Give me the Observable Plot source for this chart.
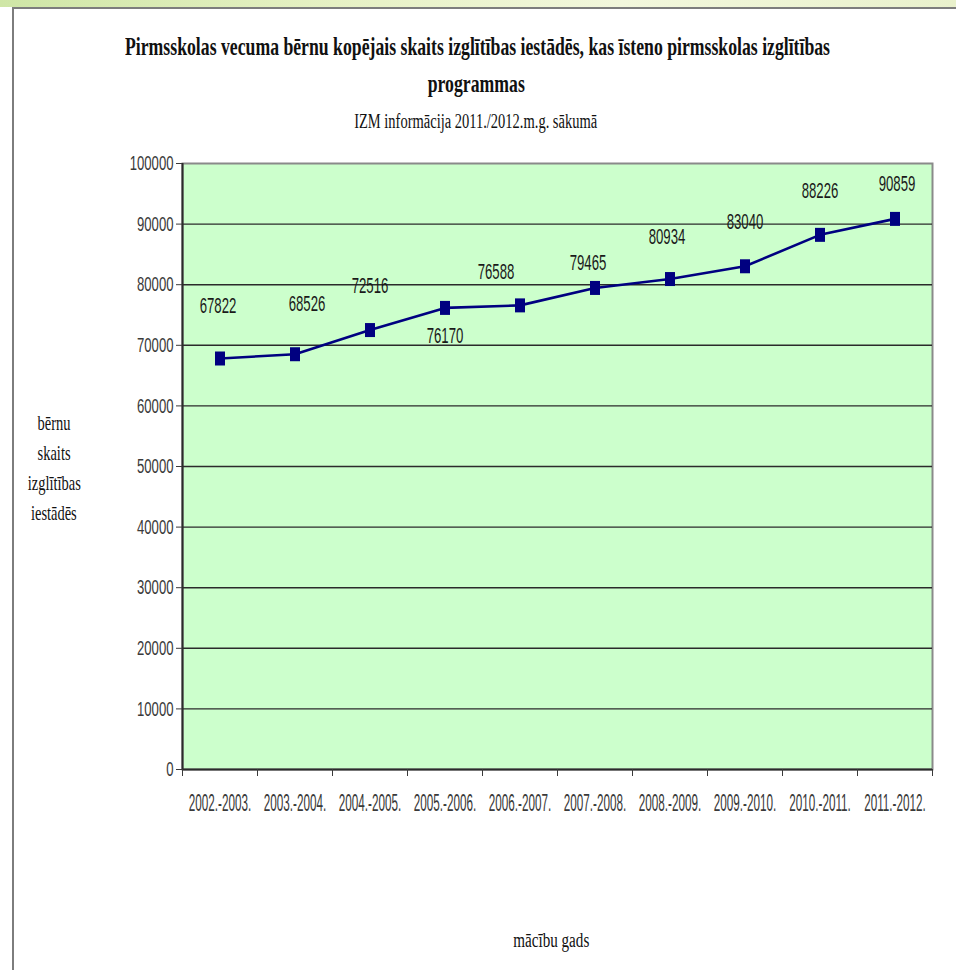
<!DOCTYPE html>
<html>
<head>
<meta charset="utf-8">
<script src="https://cdn.jsdelivr.net/npm/d3@7"></script>
<script src="https://cdn.jsdelivr.net/npm/@observablehq/plot@0.6"></script>
<style>
  html, body { margin: 0; padding: 0; }
  body { width: 956px; height: 970px; position: relative; background: #ffffff; overflow: hidden; font-family: "Liberation Serif", serif; }
  #topbar { position: absolute; left: 0; top: 0; width: 956px; height: 7px; background: linear-gradient(to right, #cfe6a6 0%, #e6f1c4 35%, #f2f7dc 65%, #e9f1cc 100%); }
  #frame { position: absolute; left: 12px; top: 7px; width: 960px; height: 980px; border-left: 2px solid #7d7d7d; border-top: 2px solid #7d7d7d; box-sizing: border-box; }
  .line { position: absolute; white-space: nowrap; color: #111; line-height: 1; }
  .line span { display: inline-block; transform-origin: center center; }
  #chart { position: absolute; left: 0; top: 140px; }
</style>
</head>
<body>
<div id="topbar"></div>
<div id="frame"></div>
<div id="texts"></div>
<div id="chart"></div>
<script>
// ---- data ----
const titleLines = [
  "Pirmsskolas vecuma bērnu kopējais skaits izglītības iestādēs, kas īsteno pirmsskolas izglītības",
  "programmas"
];
const subtitle = "IZM informācija 2011./2012.m.g. sākumā";
const yLabelLines = ["bērnu", "skaits", "izglītības", "iestādēs"];
const xLabel = "mācību gads";
const categories = ["2002.-2003.", "2003.-2004.", "2004.-2005.", "2005.-2006.", "2006.-2007.",
                    "2007.-2008.", "2008.-2009.", "2009.-2010.", "2010.-2011.", "2011.-2012."];
const values = [67822, 68526, 72516, 76170, 76588, 79465, 80934, 83040, 88226, 90859];
const yTicks = [0, 10000, 20000, 30000, 40000, 50000, 60000, 70000, 80000, 90000, 100000];
// label placement offsets (px), as positioned in the original chart
const labelDx = [-2, 12, 0, 0, -24, -7, -3, 0, 0, 2];
const labelDy = [-53, -50, -44, 28, -33, -25, -42, -44, -44, -35];

// ---- HTML texts ----
const texts = document.getElementById("texts");
function addLine(txt, cx, cy, size, weight, targetW) {
  const div = document.createElement("div");
  div.className = "line";
  div.style.fontSize = size + "px";
  div.style.fontWeight = weight;
  const span = document.createElement("span");
  span.textContent = txt;
  div.appendChild(span);
  texts.appendChild(div);
  const w = span.getBoundingClientRect().width;
  const h = span.getBoundingClientRect().height;
  const s = targetW / w;
  span.style.transform = `scaleX(${s})`;
  div.style.left = (cx - w / 2) + "px";
  div.style.top = (cy - h / 2) + "px";
  return s;
}
function measure(txt, font) {
  const probe = document.createElement("span");
  probe.style.cssText = "position:absolute;visibility:hidden;white-space:nowrap;font:" + font;
  probe.textContent = txt;
  document.body.appendChild(probe);
  const w = probe.getBoundingClientRect().width;
  probe.remove();
  return w;
}
// title
{
  const s1 = addLine(titleLines[0], 478, 47, 26, "bold", 705);
  const w2 = measure(titleLines[1], "bold 26px 'Liberation Serif'");
  addLine(titleLines[1], 476, 84, 26, "bold", w2 * s1);
}
addLine(subtitle, 476, 121, 20, "normal", 243);
// y label
{
  const ys = [423, 453, 483, 513];
  const s = 53 / measure(yLabelLines[2], "22px 'Liberation Serif'");
  yLabelLines.forEach((t, i) => {
    const w = measure(t, "22px 'Liberation Serif'");
    addLine(t, 54, ys[i], 22, "normal", w * s);
  });
}
addLine(xLabel, 551, 940, 20, "normal", 76);

// ---- chart ----
const rectSymbol = {
  draw(context, size) {
    const w = 10, h = 14;
    context.rect(-w / 2, -h / 2, w, h);
  }
};
const xi = (d, i) => i + 0.5;

const labelMarks = values.map((v, i) =>
  Plot.text([v], {
    x: () => i + 0.5,
    y: d => d,
    text: d => String(d),
    dx: labelDx[i],
    dy: labelDy[i],
    fill: "#1a1a1a",
    fontSize: 22
  })
);

const chart = Plot.plot({
  width: 956,
  height: 690,
  marginLeft: 182,
  marginRight: 24,
  marginTop: 23,
  marginBottom: 61,
  style: { fontFamily: "Liberation Sans, Arial, sans-serif", fontSize: "21px", background: "transparent", overflow: "visible" },
  x: { type: "linear", domain: [0, categories.length], axis: null },
  y: { domain: [0, 100000], axis: null },
  marks: [
    Plot.frame({ fill: "#ccffcc", stroke: "#8a8a8a", strokeWidth: 2 }),
    Plot.ruleY(yTicks.filter(t => t > 0 && t < 100000), { stroke: "#2b2b2b", strokeWidth: 1.4 }),
    Plot.ruleY([0], { stroke: "#2b2b2b", strokeWidth: 2 }),
    Plot.ruleX([0], { stroke: "#2b2b2b", strokeWidth: 2 }),
    Plot.axisY({ ticks: yTicks, tickSize: 6, tickPadding: 3, tickFormat: d => String(d), label: null, color: "#3a3a3a", fontSize: 21 }),
    Plot.axisX({ ticks: d3.range(0, categories.length + 1), tickSize: 7, tickFormat: () => "", label: null, color: "#3a3a3a" }),
    Plot.axisX({ ticks: categories.map((c, i) => i + 0.5), tickSize: 0, tickPadding: 25, tickFormat: d => categories[Math.floor(d)], label: null, color: "#3a3a3a", fontSize: 23 }),
    Plot.line(values, { x: xi, y: d => d, stroke: "#000080", strokeWidth: 2.6 }),
    Plot.dot(values, { x: xi, y: d => d, symbol: rectSymbol, r: 6, fill: "#000080", stroke: "none" }),
    ...labelMarks
  ]
});
document.getElementById("chart").appendChild(chart);

// condense text horizontally (about its own anchor) to match the squeezed look of the original
function condense(selector, ratio) {
  chart.querySelectorAll(selector).forEach(t => {
    if (!t.textContent) return;
    const x = parseFloat(t.getAttribute("x")) || 0;
    const y = parseFloat(t.getAttribute("y")) || 0;
    const prev = t.getAttribute("transform") || "";
    t.setAttribute("transform", `${prev} translate(${x},${y}) scale(${ratio},1) translate(${-x},${-y})`.trim());
  });
}
condense('g[aria-label="y-axis tick label"] text', 0.625);
condense('g[aria-label="x-axis tick label"] text', 0.51);
condense('g[aria-label="text"] text', 0.6);
</script>
</body>
</html>
